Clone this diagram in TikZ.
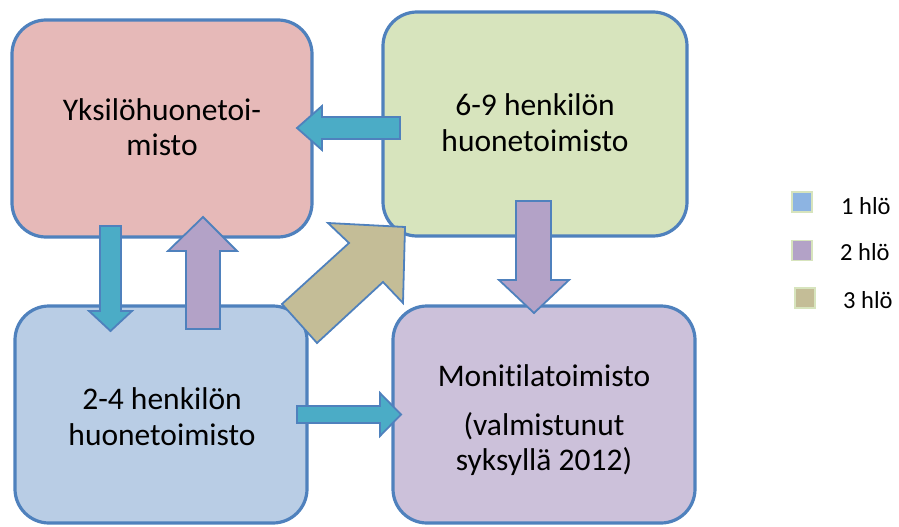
\documentclass[tikz,border=0pt]{standalone}
\usepackage{fontspec}
\setmainfont{Carlito}[Ligatures={NoCommon,NoContextual}]
\definecolor{edge}{HTML}{4F81BD}
\definecolor{pinkf}{HTML}{E6B9B8}
\definecolor{greenf}{HTML}{D7E4BD}
\definecolor{bluef}{HTML}{B9CDE5}
\definecolor{purplef}{HTML}{CCC1DA}
\definecolor{teal1}{HTML}{4BACC6}
\definecolor{purp2}{HTML}{B3A2C7}
\definecolor{khaki3}{HTML}{C4BD97}
\definecolor{legblue}{HTML}{8DB4E2}
\definecolor{legedge}{HTML}{D7E4BD}
\tikzset{
  room/.style={draw=edge, line width=3.2pt, rounded corners=34pt, inner sep=0pt},
  line/.style={anchor=base, inner sep=0pt, font=\fontsize{31.5}{36}\selectfont},
  blockarrow/.style={draw=edge, line width=1.8pt, line join=miter},
  legsq/.style={draw=legedge, line width=1.5pt, minimum width=20pt, minimum height=20pt, inner sep=0pt},
  legtxt/.style={anchor=base west, inner sep=0pt, font=\fontsize{24.5}{28}\selectfont}
}
\begin{document}
\begin{tikzpicture}[x=1pt,y=-1pt]
\useasboundingbox (0,0) rectangle (899,527);
% rooms
\node[room, fill=pinkf, minimum width=300pt, minimum height=217pt] (b1) at (162,128.5) {};
\node[room, fill=greenf, minimum width=304pt, minimum height=224pt] (b2) at (535,124) {};
\node[room, fill=bluef, minimum width=292pt, minimum height=217pt] (b3) at (161,414.5) {};
\node[room, fill=purplef, minimum width=302pt, minimum height=217pt] (b4) at (544,414.5) {};
% texts
\node[line] (t1a) at (162,120) {Yksilöhuonetoi-};
\node[line] (t1b) at (162,155) {misto};
\node[line] (t2a) at (535,115) {6-9 henkilön};
\node[line] (t2b) at (535,151) {huonetoimisto};
\node[line] (t3a) at (162,409) {2-4 henkilön};
\node[line] (t3b) at (162,445) {huonetoimisto};
\node[line] (t4a) at (544,386) {Monitilatoimisto};
\node[line] (t4b) at (544,435) {(valmistunut};
\node[line] (t4c) at (544,470) {syksyllä 2012)};
% block arrows
\draw[blockarrow, fill=teal1] (400,117) -- (322,117) -- (322,106) -- (297,128) -- (322,150) -- (322,139) -- (400,139) -- cycle;
\draw[blockarrow, fill=teal1] (100,226) -- (121,226) -- (121,311) -- (132,311) -- (110.5,331) -- (89,311) -- (100,311) -- cycle;
\draw[blockarrow, fill=purp2] (186,329) -- (220,329) -- (220,251) -- (237,251) -- (203,217) -- (168,251) -- (186,251) -- cycle;
\draw[blockarrow, fill=purp2] (516,201) -- (551,201) -- (551,280) -- (569,280) -- (534,313) -- (499,280) -- (516,280) -- cycle;
\draw[blockarrow, fill=teal1] (297,406) -- (380,406) -- (380,393) -- (401,414.5) -- (380,436) -- (380,423) -- (297,423) -- cycle;
\draw[blockarrow, fill=khaki3] (282,304) -- (349,243) -- (328,223) -- (405,227) -- (403,303) -- (383,282) -- (317,343) -- cycle;
% legend
\node[legsq, fill=legblue] (l1) at (802,202) {};
\node[legsq, fill=purp2] (l2) at (802,250.5) {};
\node[legsq, fill=khaki3] (l3) at (805,298) {};
\node[legtxt] (lt1) at (841,214) {1 hlö};
\node[legtxt] (lt2) at (840,260) {2 hlö};
\node[legtxt] (lt3) at (843,308) {3 hlö};
\end{tikzpicture}
\end{document}
